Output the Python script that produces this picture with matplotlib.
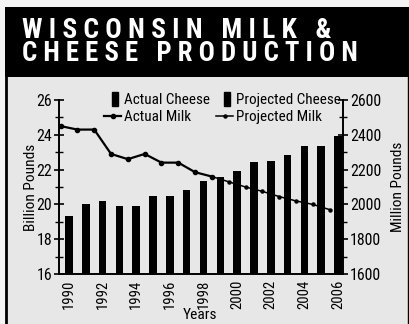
import os
import matplotlib
matplotlib.use('Agg')
import matplotlib.pyplot as plt
from matplotlib import font_manager as fm
from matplotlib.patches import Rectangle
from matplotlib.lines import Line2D
from matplotlib.legend_handler import HandlerPatch

# ---------------- data ----------------
years = list(range(1990, 2007))
cheese = [1935, 2000, 2020, 1993, 1993, 2050, 2050, 2080, 2133, 2160,
          2190, 2245, 2250, 2282, 2338, 2336, 2392]
actual_milk_years = list(range(1990, 2000))
actual_milk = [24.5, 24.3, 24.3, 22.9, 22.6, 22.9, 22.4, 22.4, 21.85, 21.6]
proj_milk_years = list(range(1999, 2007))
proj_milk = [21.6, 21.3, 21.0, 20.75, 20.45, 20.2, 20.0, 19.7]
left_ticks = [16, 18, 20, 22, 24, 26]
right_ticks = [1600, 1800, 2000, 2200, 2400, 2600]
xtick_years = [1990, 1992, 1994, 1996, 1998, 2000, 2002, 2004, 2006]
title_lines = ["WISCONSIN MILK &", "CHEESE PRODUCTION"]
legend_labels = ["Actual Cheese", "Projected Cheese", "Actual Milk", "Projected Milk"]

# ---------------- fonts (prefer narrow / condensed faces) ----------------
def find_font(candidates):
    files = {os.path.basename(f.fname).lower(): f.fname for f in fm.fontManager.ttflist}
    for c in candidates:
        if c in files:
            return files[c]
    return None

reg_path = find_font(['liberationsansnarrow-regular.ttf', 'robotocondensed-regular.ttf',
                      'dejavusanscondensed.ttf', 'opensans_condensed-regular.ttf'])
bold_path = find_font(['liberationsansnarrow-bold.ttf', 'robotocondensed-black.ttf',
                       'robotocondensed-bold.ttf', 'dejavusanscondensed-bold.ttf',
                       'opensans_condensed-extrabold.ttf', 'opensans_condensed-bold.ttf'])

def fp(size, bold=False):
    path = bold_path if bold else reg_path
    if path:
        return fm.FontProperties(fname=path, size=size)
    return fm.FontProperties(family=['DejaVu Sans'], size=size,
                             weight='bold' if bold else 'normal', stretch='condensed')

W, H = 409, 324
fig = plt.figure(figsize=(W / 100, H / 100), dpi=100, facecolor='#f4f4f4')
renderer = fig.canvas.get_renderer()

def fit(s, target_px, bold=False, base=10.0):
    w, h, d = renderer.get_text_width_height_descent(s, fp(base, bold), ismath=False)
    return base * target_px / w

def fx(px):
    return px / W

def fy(py):
    return (H - py) / H

# panel background and borders
fig.add_artist(Rectangle((fx(5), 0), fx(408) - fx(5), fy(77), transform=fig.transFigure,
                         facecolor='#e7e7e7', edgecolor='none', zorder=0))
fig.add_artist(Line2D([fx(5.5), fx(5.5)], [0, fy(77)], transform=fig.transFigure,
                      color='black', lw=2.0, zorder=1))
fig.add_artist(Line2D([fx(407.5), fx(407.5)], [0, fy(77)], transform=fig.transFigure,
                      color='black', lw=1.0, zorder=1))
# title banner
fig.add_artist(Rectangle((fx(5), fy(77)), 1 - fx(5), fy(7) - fy(77), transform=fig.transFigure,
                         facecolor='black', edgecolor='none', zorder=1))

def spaced(s):
    return '   '.join(' '.join(w) for w in s.split(' '))

title_targets = [(22, 30.5, 333), (22, 53.5, 358)]
for line, (x0, yc, x1) in zip(title_lines, title_targets):
    s = spaced(line)
    fig.text(fx(x0), fy(yc), s, color='white',
             fontproperties=fp(fit(s, x1 - x0, bold=True), bold=True),
             ha='left', va='center', zorder=3)

# ---------------- axes ----------------
ax = fig.add_axes([fx(59), fy(274), fx(343) - fx(59), fy(100) - fy(274)])
ax2 = ax.twinx()
ax.set_zorder(3)
ax2.set_zorder(2)
ax.patch.set_visible(False)
ax2.patch.set_visible(False)

ax2.bar(years, cheese, width=0.45, color='black', zorder=2)
ax.plot([y - 0.5 for y in actual_milk_years], actual_milk, color='black', lw=1.6,
        marker='o', ms=3, zorder=4)
ax.plot([y - 0.5 for y in proj_milk_years], proj_milk, color='black', lw=1.1,
        marker='o', ms=2.2, zorder=4)

ax.set_xlim(1990 - 10 / 16.8, 2006 + 5 / 16.8)
ax.set_ylim(16, 26)
ax2.set_ylim(1600, 2600)

ax.set_yticks(left_ticks)
ax.set_yticks(list(range(16, 27)), minor=True)
ax2.set_yticks(right_ticks)
ax2.set_yticks(list(range(1600, 2601, 100)), minor=True)
ax.set_xticks(xtick_years)
ax.set_xticklabels([str(y) for y in xtick_years], rotation=90)

for a in (ax, ax2):
    for s in a.spines.values():
        s.set_visible(False)
ax.spines['left'].set_visible(True)
ax.spines['bottom'].set_visible(True)
ax2.spines['right'].set_visible(True)
for s in (ax.spines['left'], ax.spines['bottom'], ax2.spines['right']):
    s.set_linewidth(1.4)

ax.tick_params(axis='y', which='major', direction='inout', length=7, width=1.2, pad=1.5)
ax.tick_params(axis='y', which='minor', direction='inout', length=6, width=1.0)
ax2.tick_params(axis='y', which='major', direction='inout', length=7, width=1.2, pad=1.5)
ax2.tick_params(axis='y', which='minor', direction='inout', length=6, width=1.0)
ax.tick_params(axis='x', length=0, pad=4)

ytick_size = fit('2600', 31)
xtick_size = fit('1990', 29)
for lbl in ax.get_yticklabels() + ax2.get_yticklabels():
    lbl.set_fontproperties(fp(ytick_size))
for lbl in ax.get_xticklabels():
    lbl.set_fontproperties(fp(xtick_size))

lab_size = fit('Billion Pounds', 87)
ax.set_ylabel('Billion Pounds', fontproperties=fp(lab_size), labelpad=-1)
ax2.set_ylabel('Million Pounds', fontproperties=fp(lab_size), labelpad=7)
ax.set_xlabel('Years', fontproperties=fp(fit('Years', 34)))
ax.xaxis.label.set_va('center')
ax.xaxis.set_label_coords((fx(200) - fx(59)) / (fx(343) - fx(59)), -(315 - 274) / 174)

# ---------------- legend ----------------
def narrow_rect(legend, orig_handle, xdescent, ydescent, width, height, fontsize):
    return Rectangle((width * 0.45 - xdescent, -ydescent - height * 0.2),
                     width * 0.38, height * 1.35)

handles = [Rectangle((0, 0), 1, 1, color='black'),
           Line2D([], [], color='black', lw=1.6, marker='o', ms=3),
           Rectangle((0, 0), 1, 1, color='black'),
           Line2D([], [], color='black', lw=1.1, marker='o', ms=2.2)]
labels = [legend_labels[0], legend_labels[2], legend_labels[1], legend_labels[3]]
leg_size = fit('Projected Cheese', 104)
leg_px = leg_size * 100 / 72
leg = fig.legend(handles, labels, ncol=2, frameon=False, prop=fp(leg_size),
                 loc='upper left', bbox_to_anchor=(fx(104), fy(93)),
                 bbox_transform=fig.transFigure, handlelength=17 / leg_px,
                 handletextpad=3 / leg_px,
                 columnspacing=6 / leg_px, labelspacing=0.2, borderpad=0, borderaxespad=0,
                 handler_map={Rectangle: HandlerPatch(patch_func=narrow_rect)})
leg.set_zorder(5)

fig.savefig('out.png', dpi=100, facecolor=fig.get_facecolor())
